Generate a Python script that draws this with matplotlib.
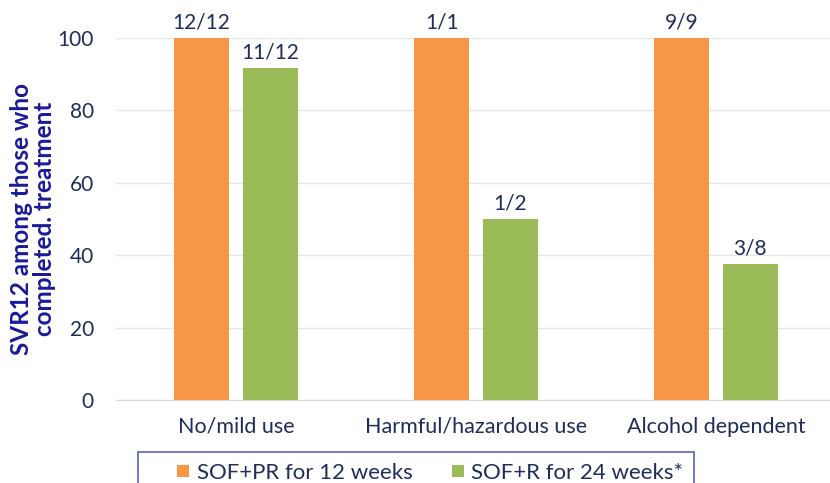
import numpy as np
import matplotlib
matplotlib.use('Agg')
import matplotlib.pyplot as plt
from matplotlib.lines import Line2D

categories = ['No/mild use', 'Harmful/hazardous use', 'Alcohol dependent']
series_names = ['SOF+PR for 12 weeks', 'SOF+R for 24 weeks*']
pr12 = [100, 100, 100]
r24 = [91.7, 50, 37.5]
pr12_labels = ['12/12', '1/1', '9/9']
r24_labels = ['11/12', '1/2', '3/8']

orange = '#F79646'
green = '#9BBB59'
navy = '#1F2D5A'

plt.rcParams['font.family'] = ['Lato', 'DejaVu Sans']

fig = plt.figure(figsize=(8.3, 4.83), dpi=100)
ax = fig.add_axes([116 / 830, 83 / 483, 720 / 830, 362 / 483])

x = np.arange(len(categories))
w = 0.227
off = 0.143
b1 = ax.bar(x - off, pr12, w, color=orange, label=series_names[0], zorder=3)
b2 = ax.bar(x + off, r24, w, color=green, label=series_names[1], zorder=3)

for bars, labels in ((b1, pr12_labels), (b2, r24_labels)):
    for bar, lab in zip(bars, labels):
        ax.text(bar.get_x() + bar.get_width() / 2, bar.get_height() + 1.5, lab,
                ha='center', va='bottom', fontsize=15, color=navy)

ax.set_xlim(-0.5, 2.5)
ax.set_ylim(0, 100)
ax.set_yticks([0, 20, 40, 60, 80, 100])
ax.set_xticks(x)
ax.set_xticklabels(categories)
ax.tick_params(axis='both', length=0, labelsize=15, labelcolor=navy)
ax.tick_params(axis='x', labelsize=15.5, pad=12)
ax.tick_params(axis='y', pad=16)
ax.grid(axis='y', color='#E6E6E6', linewidth=1, zorder=0)
for s in ['top', 'right', 'left']:
    ax.spines[s].set_visible(False)
ax.spines['bottom'].set_color('#D9D9D9')

# y axis title, placed by hand so it stays inside the figure
fig.text(33 / 830, 1 - 219 / 483, 'SVR12 among those who\ncompleted. treatment',
         rotation=90, ha='center', va='center', multialignment='center',
         fontsize=17.5, fontweight='bold', color='#1A1A99', linespacing=1.0)

# square markers centred in a wide handle, to get the roomy left padding
handles = [Line2D([], [], linestyle='none', marker='s', markersize=9,
                  color=c, markeredgewidth=0) for c in (orange, green)]
leg = fig.legend(handles=handles, labels=series_names, loc='lower left',
                 bbox_to_anchor=(131 / 830, -18 / 483),
                 ncol=2, fontsize=16, frameon=True, fancybox=False,
                 handlelength=3.1, handletextpad=-0.95,
                 columnspacing=0.5, borderpad=0.5, borderaxespad=0.3)
leg.get_frame().set_edgecolor('#2E3F9E')
leg.get_frame().set_linewidth(1.2)
for t in leg.get_texts():
    t.set_color(navy)

fig.savefig('out.png', dpi=100)
